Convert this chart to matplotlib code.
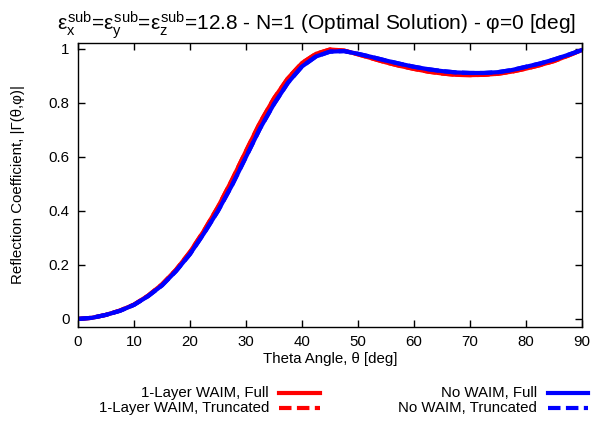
import matplotlib
matplotlib.use('Agg')
import matplotlib.pyplot as plt
from matplotlib.lines import Line2D

plt.rcParams['font.family'] = ['Liberation Sans', 'DejaVu Sans']
plt.rcParams['mathtext.fontset'] = 'custom'
plt.rcParams['mathtext.rm'] = 'Liberation Sans'
plt.rcParams['mathtext.it'] = 'Liberation Sans'
plt.rcParams['mathtext.bf'] = 'Liberation Sans'

# theta angle [deg]
theta = [0, 2.5, 5, 7.5, 10, 12.5, 15, 17.5, 20, 22.5, 25, 27.5, 30, 32.5, 35,
         37.5, 40, 42.5, 45, 47.5, 50, 52.5, 55, 57.5, 60, 62.5, 65, 67.5, 70,
         72.5, 75, 77.5, 80, 82.5, 85, 87.5, 90]

# 1-layer WAIM
waim_full = [0.000, 0.004, 0.015, 0.031, 0.053, 0.086, 0.128, 0.182, 0.248,
             0.327, 0.415, 0.515, 0.622, 0.727, 0.817, 0.892, 0.948, 0.982,
             0.998, 0.994, 0.980, 0.965, 0.950, 0.937, 0.926, 0.916, 0.909,
             0.904, 0.903, 0.904, 0.908, 0.916, 0.927, 0.940, 0.955, 0.975,
             0.996]
waim_trunc = list(waim_full)

# no WAIM
nowaim_full = [0.000, 0.004, 0.015, 0.030, 0.052, 0.084, 0.124, 0.177, 0.240,
               0.317, 0.400, 0.495, 0.600, 0.705, 0.796, 0.875, 0.935, 0.972,
               0.990, 0.992, 0.982, 0.970, 0.957, 0.945, 0.934, 0.925, 0.918,
               0.913, 0.911, 0.911, 0.914, 0.922, 0.934, 0.946, 0.961, 0.978,
               0.996]
nowaim_trunc = list(nowaim_full)

labels = ['1-Layer WAIM, Full', '1-Layer WAIM, Truncated',
          'No WAIM, Full', 'No WAIM, Truncated']

red = '#ff0000'
blue = '#0000ff'
lw = 3
dash = (0, (3, 1.3))
fs = 10.8

fig = plt.figure(figsize=(5.94, 4.25), dpi=100)
ax = fig.add_axes([78/594, 1 - 327/425, 504/594, 284/425])

ax.plot(theta, waim_full, color=red, lw=lw)
ax.plot(theta, waim_trunc, color=red, lw=lw, linestyle=dash)
ax.plot(theta, nowaim_full, color=blue, lw=lw)
ax.plot(theta, nowaim_trunc, color=blue, lw=lw, linestyle=dash)

ax.set_xlim(0, 90)
ax.set_ylim(-0.03, 1.022)
ax.set_xticks(range(0, 91, 10))
ax.set_yticks([0, 0.2, 0.4, 0.6, 0.8, 1])
ax.set_yticklabels(['0', '0.2', '0.4', '0.6', '0.8', '1'])
ax.tick_params(direction='in', top=True, right=True, length=5, width=1,
               labelsize=fs, pad=6)
for s in ax.spines.values():
    s.set_linewidth(1)

ax.set_xlabel('Theta Angle, θ [deg]', fontsize=fs)
ax.xaxis.set_label_coords(0.5, -0.088)
ax.set_ylabel('Reflection Coefficient, |Γ(θ,φ)|', fontsize=fs)
ax.yaxis.set_label_coords(-0.12, 0.5)
ax.yaxis.label.set_va('center')

# title
fig.text(316.5 / 594, 1 - 30 / 425,
         r'$\varepsilon_x^{\rm sub}$=$\varepsilon_y^{\rm sub}$=$\varepsilon_z^{\rm sub}$'
         '=12.8 - N=1 (Optimal Solution) - φ=0 [deg]',
         ha='center', va='baseline', fontsize=15)

# gnuplot style key below the plot
rows = [393, 408]
cols = [(269, 279, 320), (537, 548, 588)]
styles = [(red, '-'), (red, dash), (blue, '-'), (blue, dash)]
for i, lab in enumerate(labels):
    tx, x0, x1 = cols[i // 2]
    y = 1 - rows[i % 2] / 425
    fig.text(tx / 594, y, lab, ha='right', va='center', fontsize=fs)
    c, ls = styles[i]
    fig.add_artist(Line2D([x0 / 594, x1 / 594], [y, y], color=c, lw=lw,
                          linestyle=ls, transform=fig.transFigure))

fig.savefig('out.png', dpi=100)
